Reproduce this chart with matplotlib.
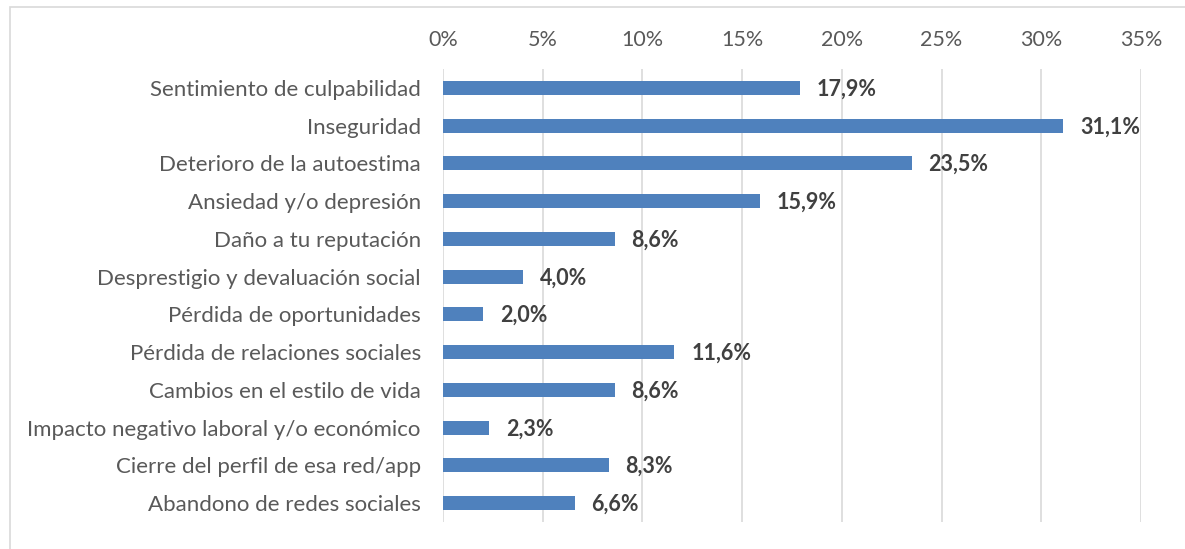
import matplotlib.pyplot as plt
from matplotlib.patches import Rectangle

categorias = ['Sentimiento de culpabilidad', 'Inseguridad', 'Deterioro de la autoestima',
              'Ansiedad y/o depresión', 'Daño a tu reputación', 'Desprestigio y devaluación social',
              'Pérdida de oportunidades', 'Pérdida de relaciones sociales', 'Cambios en el estilo de vida',
              'Impacto negativo laboral y/o económico', 'Cierre del perfil de esa red/app',
              'Abandono de redes sociales']
valores = [17.9, 31.1, 23.5, 15.9, 8.6, 4.0, 2.0, 11.6, 8.6, 2.3, 8.3, 6.6]
ticks = [0, 5, 10, 15, 20, 25, 30, 35]

plt.rcParams['font.family'] = ['Lato', 'DejaVu Sans']

fig = plt.figure(figsize=(11.85, 5.49), dpi=100)
ax = fig.add_axes([443/1185, 1-522/549, (1141-443)/1185, (522-69)/549])

# marco del gráfico
fig.patches.append(Rectangle((10/1185, -0.05), 1.1, 1-7/549+0.05, transform=fig.transFigure,
                             fill=False, edgecolor='#D9D9D9', linewidth=1.2))

y = list(range(len(categorias)))
ax.barh(y, valores, height=0.37, color='#4F81BD', zorder=3)
for yi, v in zip(y, valores):
    ax.text(v + 0.85, yi + 0.03, ('%.1f%%' % v).replace('.', ','), va='center', ha='left',
            fontsize=15.5, fontweight='bold', color='#404040')

ax.set_xlim(0, 35)
ax.set_ylim(len(categorias) - 0.5, -0.5)
ax.set_xticks(ticks)
ax.set_xticklabels(['%d%%' % t for t in ticks])
ax.set_yticks(y)
ax.set_yticklabels(categorias)
ax.xaxis.tick_top()
ax.tick_params(axis='x', length=0, pad=14, labelsize=15.5, labelcolor='#595959')
ax.tick_params(axis='y', length=0, pad=16, labelsize=16, labelcolor='#595959')
ax.grid(axis='x', color='#D9D9D9', linewidth=1.2, zorder=0)
for s in ax.spines.values():
    s.set_visible(False)

fig.savefig('out.png', dpi=100)
